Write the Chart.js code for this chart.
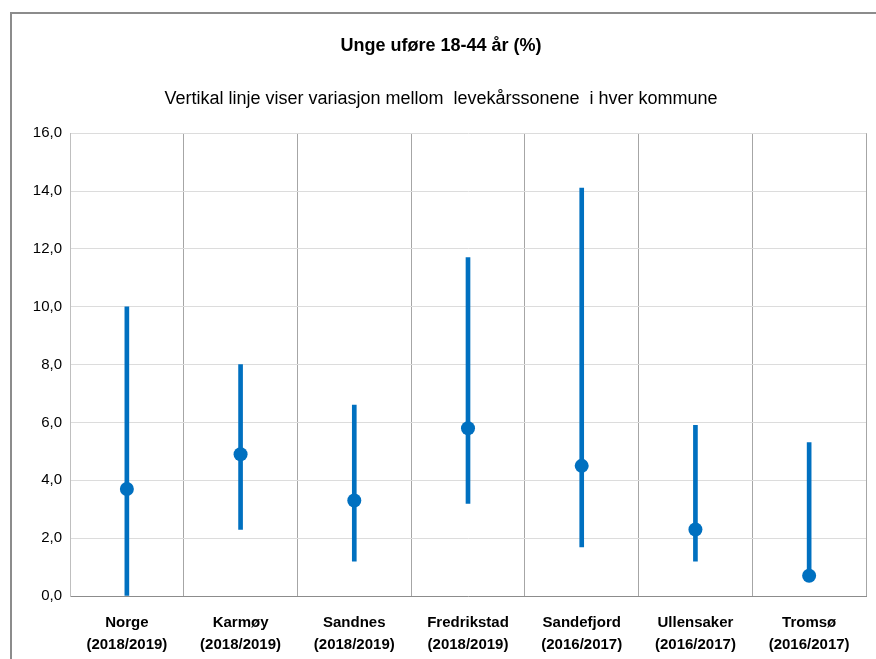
<!DOCTYPE html>
<html><head><meta charset="utf-8">
<script src="https://cdn.jsdelivr.net/npm/chart.js@4/dist/chart.umd.min.js"></script>
<style>
html,body{margin:0;padding:0;background:#fff;}
#wrap{position:absolute;left:0;top:0;width:876px;height:659px;}
#frame{position:absolute;left:10px;top:12px;width:870px;height:660px;border:2px solid #8c8c8c;box-sizing:border-box;}
canvas{position:absolute;left:0;top:0;}
</style></head>
<body>
<div id="wrap"><div id="frame"></div><canvas id="c" width="876" height="659"></canvas></div>
<script>
const categories = [
  ["Norge","(2018/2019)"],["Karmøy","(2018/2019)"],["Sandnes","(2018/2019)"],
  ["Fredrikstad","(2018/2019)"],["Sandefjord","(2016/2017)"],["Ullensaker","(2016/2017)"],["Tromsø","(2016/2017)"]
];
const values = [3.7, 4.9, 3.3, 5.8, 4.5, 2.3, 0.7];
const rangeLow = [0.0, 2.3, 1.2, 3.2, 1.7, 1.2, 0.7];
const rangeHigh = [10.0, 8.0, 6.6, 11.7, 14.1, 5.9, 5.3];
const yTicks = [0,2,4,6,8,10,12,14,16];

const FONT = "'Liberation Sans',Arial,sans-serif";
const blue = '#0070C0';

new Chart(document.getElementById('c'), {
  type: 'bar',
  data: {
    labels: categories,
    datasets: [
      {
        type: 'line',
        data: values,
        showLine: false,
        pointRadius: 7,
        pointHoverRadius: 7,
        pointBackgroundColor: blue,
        pointBorderColor: blue,
        pointBorderWidth: 0,
        order: 0
      },
      {
        type: 'bar',
        data: rangeLow.map((l, i) => [l, rangeHigh[i]]),
        backgroundColor: blue,
        borderWidth: 0,
        barThickness: 4,
        order: 1
      }
    ]
  },
  options: {
    responsive: false,
    animation: false,
    devicePixelRatio: 1,
    layout: { padding: { left: 16, right: 10, top: 0, bottom: 0 } },
    plugins: {
      legend: { display: false },
      tooltip: { enabled: false },
      title: {
        display: true,
        text: 'Unge uføre 18-44 år (%)',
        color: '#000',
        font: { family: FONT, size: 18, weight: 'bold' },
        padding: { top: 35, bottom: 32 }
      },
      subtitle: {
        display: true,
        text: 'Vertikal linje viser variasjon mellom  levekårssonene  i hver kommune',
        color: '#000',
        font: { family: FONT, size: 18 },
        padding: { top: 0, bottom: 23 }
      }
    },
    scales: {
      x: {
        grid: { display: true, offset: true, color: '#a6a6a6', lineWidth: 1, drawTicks: false },
        border: { display: true, color: '#8c8c8c', width: 1 },
        ticks: { color: '#000', font: { family: FONT, size: 15, weight: 'bold', lineHeight: 1.45 }, padding: 16, maxRotation: 0 },
        afterFit: s => { s.height = 63; }
      },
      y: {
        min: 0, max: 16,
        afterBuildTicks: s => { s.ticks = yTicks.map(v => ({ value: v })); },
        grid: { color: '#dcdcdc', lineWidth: 1, drawTicks: false },
        border: { display: true, color: '#bfbfbf' },
        ticks: {
          color: '#000',
          font: { family: FONT, size: 15 },
          padding: 8,
          callback: v => v.toFixed(1).replace('.', ',')
        },
        afterFit: s => { s.width = 54; }
      }
    }
  }
});
</script>
</body></html>
